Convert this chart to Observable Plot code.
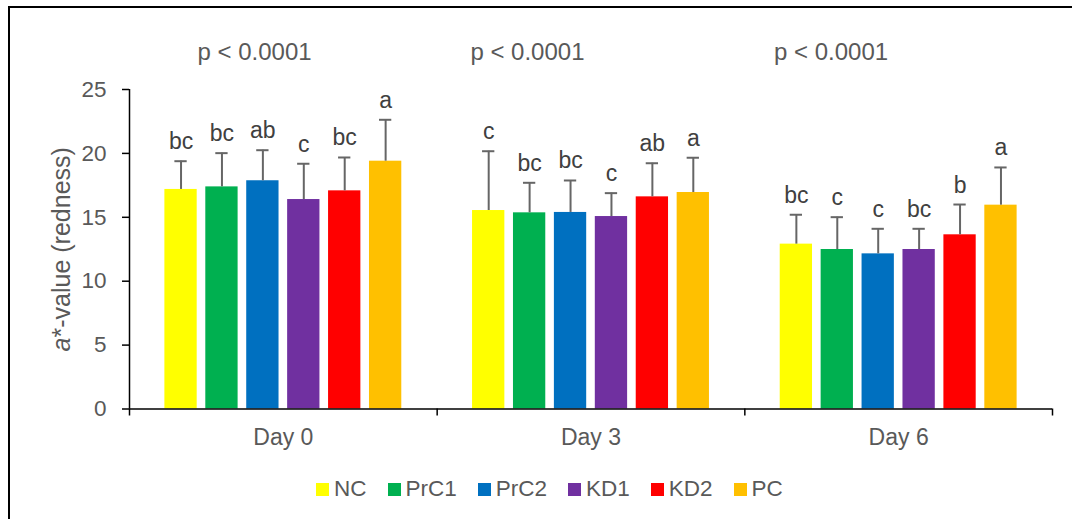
<!DOCTYPE html>
<html><head><meta charset="utf-8">
<script src="https://cdn.jsdelivr.net/npm/d3@7"></script>
<script src="https://cdn.jsdelivr.net/npm/@observablehq/plot@0.6"></script>
<style>
html,body{margin:0;padding:0;background:#fff;overflow:hidden;width:1072px;height:519px;}
body{position:relative;font-family:"Liberation Sans",Arial,sans-serif;}
#border{position:absolute;left:8px;top:6px;width:1100px;height:600px;border-left:2px solid #000;border-top:2px solid #000;box-sizing:border-box;}
#chart{position:absolute;left:0;top:0;}
#legend{position:absolute;left:316px;top:478px;height:22px;display:flex;align-items:center;font-size:22.5px;color:#595959;line-height:22px;}
.item{display:flex;align-items:center;margin-right:21px;}
.sw{width:13px;height:13px;margin-right:5px;}
</style></head><body>
<div id="border"></div><div id="chart"></div><div id="legend"></div>
<script>
// ---- data ----
const days = ["Day 0", "Day 3", "Day 6"];
const series = ["NC", "PrC1", "PrC2", "KD1", "KD2", "PC"];
const colors = ["#FFFF00", "#00B050", "#0070C0", "#7030A0", "#FF0000", "#FFC000"];
const meanDay0 = [17.18, 17.38, 17.86, 16.39, 17.07, 19.39];
const meanDay3 = [15.53, 15.35, 15.38, 15.06, 16.60, 16.94];
const meanDay6 = [12.90, 12.48, 12.14, 12.48, 13.63, 15.95];
const sdDay0 = [2.21, 2.64, 2.39, 2.80, 2.61, 3.24];
const sdDay3 = [4.64, 2.35, 2.50, 1.83, 2.63, 2.72];
const sdDay6 = [2.30, 2.53, 1.96, 1.62, 2.37, 2.95];
const lettersDay0 = ["bc", "bc", "ab", "c", "bc", "a"];
const lettersDay3 = ["c", "bc", "bc", "c", "ab", "a"];
const lettersDay6 = ["bc", "c", "c", "bc", "b", "a"];
const pValues = ["p < 0.0001", "p < 0.0001", "p < 0.0001"];
const yTicks = [0, 5, 10, 15, 20, 25];
const yTitle = "a*-value (redness)";

// ---- layout (in category units) ----
const pOffset = [0.221, 0.108, 0.095];
const step = 0.133, barW = 0.105, start0 = (1 - (5 * step + barW)) / 2, cap = 0.02;

const means = [meanDay0, meanDay3, meanDay6];
const sds = [sdDay0, sdDay3, sdDay6];
const letters = [lettersDay0, lettersDay3, lettersDay6];
const rows = [];
days.forEach((day, di) => series.forEach((s, gi) => rows.push({
  day, di, gi, series: s, mean: means[di][gi], sd: sds[di][gi], letter: letters[di][gi]
})));
const barLeft = d => d.di + start0 + d.gi * step;
const barMid = d => barLeft(d) + barW / 2;
const errTop = d => d.mean + d.sd;

const W = 1072, H = 460;
const FONT = "'Liberation Sans', Arial, sans-serif";
const plot = Plot.plot({
  width: W, height: H,
  marginLeft: 129, marginRight: 20, marginTop: 89, marginBottom: H - 408.5,
  x: {type: "linear", domain: [0, 3], axis: null},
  y: {domain: [0, 25], axis: null},
  color: {domain: series, range: colors},
  style: {fontFamily: FONT, fontSize: "22.5px", background: "transparent", overflow: "visible"},
  marks: [
    Plot.rectY(rows, {x1: barLeft, x2: d => barLeft(d) + barW, y: "mean", fill: "series"}),
    Plot.ruleX(rows, {x: barMid, y1: "mean", y2: errTop, stroke: "#666", strokeWidth: 2}),
    Plot.ruleY(rows, {y: errTop, x1: d => barMid(d) - cap, x2: d => barMid(d) + cap, stroke: "#666", strokeWidth: 2}),
    Plot.text(rows, {x: barMid, y: errTop, text: "letter", lineAnchor: "bottom", dy: -12, fill: "#404040", fontSize: 23}),
    // tick marks
    Plot.axisY({ticks: yTicks, tickSize: 7, tickFormat: () => "", stroke: "black", strokeWidth: 1.5, label: null}),
    Plot.axisX({ticks: [0, 1, 2, 3], tickSize: 7, tickFormat: () => "", stroke: "black", strokeWidth: 1.5, label: null}),
    // tick labels
    Plot.text(yTicks, {x: 0, y: d => d, text: d => String(d), textAnchor: "end", lineAnchor: "middle", dx: -23, fill: "#595959", fontSize: 22.5}),
    Plot.text(days, {x: (d, i) => i + 0.5, text: d => d, frameAnchor: "bottom", textAnchor: "middle", lineAnchor: "top", dy: 20, fill: "#595959", fontSize: 23}),
    Plot.ruleY([0], {stroke: "black", strokeWidth: 1.5}),
    Plot.ruleX([0], {y1: 0, y2: 25, stroke: "black", strokeWidth: 1.5}),
    Plot.text(pValues, {x: (d, i) => i + pOffset[i], text: d => d, frameAnchor: "top", textAnchor: "start", lineAnchor: "bottom", dy: -30, fill: "#595959", fontSize: 24}),
    Plot.text([yTitle], {text: d => d, frameAnchor: "left", textAnchor: "middle", rotate: -90, lineAnchor: "bottom", dx: -60, fill: "#595959", fontSize: 25})
  ]
});
d3.select(plot).selectAll("text").filter(function () { return this.textContent === yTitle; }).each(function () {
  const t = d3.select(this);
  t.text(null);
  t.append("tspan").attr("font-style", "italic").text("a");
  t.append("tspan").text("*-value (redness)");
});
document.getElementById("chart").appendChild(plot);

const legend = d3.select("#legend");
series.forEach((s, i) => {
  const it = legend.append("div").attr("class", "item");
  it.append("div").attr("class", "sw").style("background", colors[i]);
  it.append("span").text(s);
});
</script>
</body></html>
